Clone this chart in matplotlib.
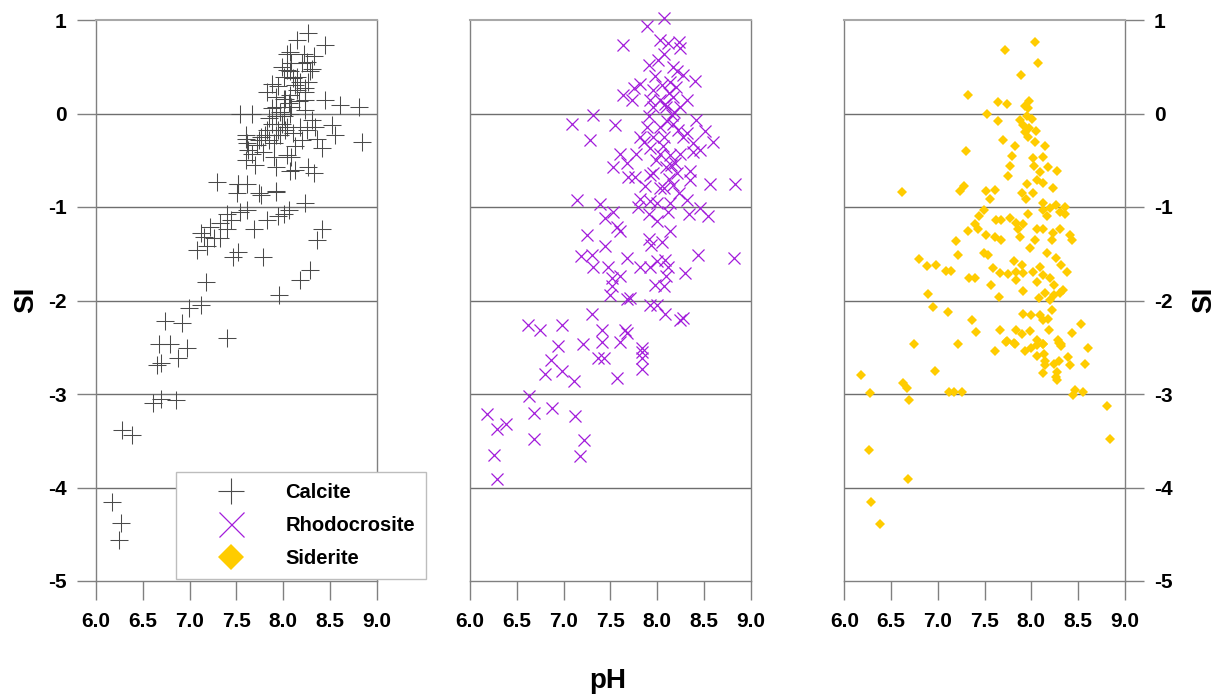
import matplotlib
matplotlib.use("Agg")
import matplotlib.pyplot as plt
from matplotlib.lines import Line2D

plt.rcParams['font.family'] = ['Liberation Sans', 'DejaVu Sans']

# ---------------- data (pH, SI) ----------------
calcite_ph = [8.27, 8.15, 8.45, 8.08, 8.22, 8.33, 8.08, 8.15, 8.20, 8.29, 8.31, 8.01, 8.13, 8.24,
              7.95, 7.88, 7.83, 7.92, 8.06, 8.17, 8.09, 8.02, 8.24, 8.45, 8.61, 8.81, 7.88, 7.54,
              7.67, 7.85, 7.99, 8.04, 7.95, 7.83, 7.77, 7.60, 7.92, 8.11, 8.26, 8.34, 8.52, 8.56,
              8.84, 8.36, 8.42, 8.13, 7.90, 7.72, 7.63, 7.60, 7.70, 7.92, 8.08, 8.13, 8.27, 8.33,
              8.04, 7.52, 7.74, 7.92,
              7.99, 8.04, 8.11, 8.18, 8.15, 8.08, 8.01, 7.93, 7.97, 7.92, 7.88, 8.01, 8.08, 7.81,
              7.74, 7.85, 7.97, 8.02, 8.18, 8.24, 8.31, 8.27, 8.24, 8.09, 8.04, 8.26, 7.60, 7.61,
              7.67, 7.79, 8.09, 8.20, 7.90,
              7.29, 7.52, 7.61, 7.51, 7.76, 7.92, 7.61, 7.40, 7.54, 7.44, 7.33, 7.22, 7.15, 7.26,
              7.33, 7.12, 7.08, 7.19, 7.40, 7.47, 7.52, 7.69, 7.83, 7.95, 8.01, 8.06, 8.24, 7.79,
              8.42, 8.36, 8.29, 8.18, 7.96, 7.18, 7.12, 6.99, 6.74, 6.92, 7.40, 6.67, 6.79,
              6.97, 6.88, 6.65, 6.69, 6.61, 6.69, 6.86, 6.28, 6.38, 6.17, 6.27, 6.25]
calcite_si = [0.86, 0.79, 0.73, 0.66, 0.64, 0.61, 0.45, 0.39, 0.54, 0.45, 0.48, 0.39, 0.30, 0.23,
              0.29, 0.32, 0.23, 0.18, 0.11, 0.13, 0.07, 0.16, 0.14, 0.14, 0.09, 0.07, 0.06, 0.00,
              0.00, -0.05, -0.11, -0.14, -0.18, -0.18, -0.25, -0.27, -0.23, -0.21, -0.18, -0.14, -0.12, -0.23,
              -0.31, -0.27, -0.37, -0.35, -0.32, -0.34, -0.39, -0.50, -0.55, -0.57, -0.62, -0.60, -0.57, -0.64,
              -0.44, -0.75, -0.85, -0.84,
              0.50, 0.47, 0.38, 0.34, 0.25, 0.20, 0.16, 0.07, 0.02, -0.03, -0.11, -0.03, 0.00, -0.23,
              -0.28, -0.28, -0.23, -0.18, -0.14, 0.04, -0.07, 0.34, 0.27, 0.54, 0.64, 0.55, -0.23, -0.32,
              -0.43, -0.41, -0.46, -0.28, -0.46,
              -0.73, -0.75, -0.75, -0.85, -0.87, -0.83, -1.03, -1.07, -1.05, -1.14, -1.17, -1.21, -1.32, -1.33,
              -1.33, -1.28, -1.46, -1.42, -1.24, -1.53, -1.48, -1.23, -1.14, -1.10, -1.07, -1.03, -0.96, -1.53,
              -1.23, -1.35, -1.67, -1.78, -1.94, -1.80, -2.05, -2.08, -2.22, -2.24, -2.40, -2.46, -2.46,
              -2.51, -2.62, -2.69, -2.67, -3.10, -3.05, -3.06, -3.39, -3.44, -4.15, -4.38, -4.56]

rhodo_ph = [8.07, 7.89, 7.64, 8.03, 8.12, 8.23, 8.25, 8.07, 8.01, 7.91, 8.17, 8.28, 8.21, 8.41,
            8.14, 7.75, 7.64, 7.73, 7.82, 7.96, 7.93, 8.03, 8.17, 8.32, 8.10, 8.25, 7.96, 8.16,
            7.91, 7.32, 7.09, 7.55, 7.28, 8.42, 7.89, 8.03, 8.17, 8.51, 8.60, 7.82, 7.96, 8.07,
            8.28, 8.32, 8.39, 8.46, 7.60, 7.78, 7.93, 8.03, 8.14, 8.25, 8.39, 7.53, 7.68, 7.76,
            7.69, 7.93, 7.96, 8.10, 8.21, 8.35, 8.19, 8.35, 8.57, 8.83, 7.87, 8.03, 8.17, 7.82,
            7.93, 8.00, 8.14, 8.23, 8.32, 7.14, 7.39, 7.53, 7.44, 7.91, 8.12, 8.34, 8.46, 8.55,
            7.57, 7.60, 7.25, 7.44, 7.91, 7.94, 8.05, 8.14, 7.19, 7.30, 7.32, 7.48, 7.68, 7.82,
            7.93, 8.00, 8.09, 8.12, 8.44, 8.82, 8.30, 7.52, 7.60, 7.52, 7.98, 8.07, 8.10, 7.50,
            7.68, 7.71, 7.93, 8.00, 8.09, 7.30, 8.25, 8.28, 6.62, 6.75, 6.98, 7.41, 7.66, 7.68,
            7.41, 7.60, 7.21, 6.94, 7.84,
            6.87, 6.98, 6.80, 7.11, 7.37, 7.43, 7.57, 7.84, 7.84, 7.84, 6.63, 6.68, 6.88, 7.12,
            6.18, 6.29, 6.39, 6.68, 7.22, 6.26, 7.18, 6.29,
            8.05, 8.13, 8.20, 7.98, 8.09, 8.18, 8.11, 8.06, 8.22, 8.15, 7.99, 8.08, 7.86, 7.80,
            8.00, 8.13]
rhodo_si = [1.02, 0.94, 0.73, 0.79, 0.75, 0.77, 0.70, 0.64, 0.57, 0.52, 0.50, 0.41, 0.45, 0.35,
            0.34, 0.27, 0.20, 0.14, 0.32, 0.25, 0.14, 0.14, 0.18, 0.14, 0.07, 0.07, 0.07, -0.02,
            -0.03, -0.02, -0.11, -0.12, -0.28, -0.07, -0.14, -0.14, -0.11, -0.19, -0.30, -0.25, -0.25, -0.25,
            -0.25, -0.21, -0.32, -0.39, -0.43, -0.43, -0.37, -0.43, -0.44, -0.43, -0.41, -0.57, -0.53, -0.68,
            -0.68, -0.66, -0.64, -0.57, -0.64, -0.61, -0.53, -0.71, -0.75, -0.75, -0.78, -0.80, -0.76, -0.91,
            -0.94, -0.96, -0.96, -0.85, -0.93, -0.93, -0.97, -1.05, -1.12, -1.07, -1.05, -1.07, -1.01, -1.10,
            -1.21, -1.26, -1.30, -1.42, -1.34, -1.41, -1.37, -1.26, -1.52, -1.51, -1.64, -1.64, -1.55, -1.64,
            -1.64, -1.58, -1.57, -1.64, -1.51, -1.55, -1.71, -1.76, -1.74, -1.85, -1.83, -1.85, -1.74, -1.94,
            -1.98, -1.97, -2.05, -2.05, -2.14, -2.14, -2.21, -2.19, -2.26, -2.32, -2.26, -2.32, -2.32, -2.35,
            -2.44, -2.44, -2.46, -2.49, -2.51,
            -2.64, -2.75, -2.79, -2.86, -2.62, -2.62, -2.83, -2.55, -2.62, -2.73, -3.02, -3.20, -3.15, -3.24,
            -3.21, -3.37, -3.32, -3.48, -3.49, -3.65, -3.66, -3.91,
            0.30, 0.22, 0.28, 0.40, 0.10, 0.02, -0.08, -0.35, -0.18, -0.55, -0.50, -0.80, -0.30, -1.00,
            -1.15, -0.70]

siderite_ph = [8.04, 7.72, 8.07, 7.89, 7.32, 7.64, 7.74, 7.93, 7.98, 7.96, 7.53, 7.64, 7.88, 7.95,
               8.01, 7.91, 7.98, 8.05, 7.93, 7.96, 8.04, 7.70, 7.83, 8.15, 7.30, 7.79, 8.02, 8.13,
               7.77, 8.18, 8.03, 8.27, 8.09, 7.75, 8.06, 8.13, 7.95, 8.23, 6.62, 7.24, 7.28, 7.52,
               7.61, 7.90, 8.02, 7.94, 7.56, 8.13, 8.26, 8.36, 7.49, 8.13, 8.20, 8.31, 8.36, 7.44,
               7.97, 8.17, 7.62, 7.68, 7.77, 7.84, 7.91, 7.86, 7.40, 7.32, 7.43, 8.06, 8.13, 8.23,
               8.31, 8.41, 8.43, 7.52, 7.61, 7.68, 7.88, 8.04, 8.22, 7.19, 7.99, 7.22, 7.49, 7.54,
               8.17, 8.26, 6.80, 6.88, 6.98, 7.09, 7.14, 7.81, 7.90, 8.09, 8.32, 8.38, 7.59, 7.66,
               7.75, 7.84, 7.91, 8.02, 8.13, 8.20, 7.33, 7.40, 7.84, 8.06, 8.24, 8.34, 7.57, 7.91,
               8.15, 8.24, 8.31, 6.89, 7.65, 8.08, 8.20, 6.95, 7.11, 8.22, 7.91, 8.00, 8.09, 8.13,
               8.18, 7.37, 8.53, 7.41, 7.67, 7.84, 7.90, 7.99, 8.19, 8.43, 7.74, 7.82, 8.06, 8.13,
               8.29, 8.32, 6.75, 7.22, 8.61,
               7.61, 7.73, 7.83, 7.93, 8.00, 8.06, 8.13, 8.30, 8.32, 8.06, 8.14, 8.15, 8.15, 8.24,
               8.30, 8.39, 8.41, 8.57, 8.13, 8.27, 8.26, 8.27, 6.18, 6.28, 6.63, 6.67, 6.69, 6.97,
               7.12, 7.17, 7.26, 8.47, 8.45, 8.55, 8.81, 8.84, 6.26, 6.68, 6.29, 6.38]
siderite_si = [0.76, 0.68, 0.54, 0.41, 0.20, 0.12, 0.10, 0.08, 0.13, 0.06, -0.01, -0.08, -0.07, -0.03,
               -0.06, -0.12, -0.15, -0.19, -0.20, -0.25, -0.30, -0.28, -0.35, -0.35, -0.40, -0.45, -0.48, -0.46,
               -0.56, -0.57, -0.56, -0.61, -0.63, -0.67, -0.71, -0.74, -0.75, -0.80, -0.84, -0.83, -0.78, -0.83,
               -0.82, -0.85, -0.85, -0.91, -0.91, -0.96, -0.98, -1.00, -1.03, -1.03, -1.01, -1.05, -1.07, -1.10,
               -1.08, -1.10, -1.14, -1.14, -1.12, -1.17, -1.18, -1.24, -1.18, -1.26, -1.24, -1.24, -1.23, -1.28,
               -1.23, -1.30, -1.35, -1.30, -1.32, -1.35, -1.32, -1.35, -1.35, -1.36, -1.44, -1.51, -1.49, -1.51,
               -1.49, -1.55, -1.56, -1.63, -1.62, -1.68, -1.68, -1.58, -1.62, -1.64, -1.62, -1.69, -1.65, -1.71,
               -1.72, -1.70, -1.71, -1.69, -1.73, -1.76, -1.76, -1.76, -1.78, -1.80, -1.83, -1.89, -1.83, -1.90,
               -1.92, -1.94, -1.92, -1.93, -1.96, -1.97, -1.99, -2.07, -2.12, -2.10, -2.14, -2.15, -2.15, -2.21,
               -2.20, -2.21, -2.25, -2.34, -2.32, -2.32, -2.36, -2.33, -2.32, -2.35, -2.43, -2.45, -2.42, -2.46,
               -2.42, -2.46, -2.47, -2.47, -2.51,
               -2.54, -2.44, -2.46, -2.54, -2.51, -2.48, -2.46, -2.45, -2.49, -2.59, -2.57, -2.65, -2.69, -2.68,
               -2.65, -2.60, -2.69, -2.68, -2.78, -2.77, -2.82, -2.85, -2.80, -2.99, -2.88, -2.94, -3.06, -2.75,
               -2.98, -2.98, -2.98, -2.96, -3.01, -2.98, -3.13, -3.48, -3.60, -3.91, -4.16, -4.39]

x_ticks = [6.0, 6.5, 7.0, 7.5, 8.0, 8.5, 9.0]
x_ticklabels = ["6.0", "6.5", "7.0", "7.5", "8.0", "8.5", "9.0"]
y_ticks = [1, 0, -1, -2, -3, -4, -5]
y_ticklabels = ["1", "0", "-1", "-2", "-3", "-4", "-5"]
legend_labels = ["Calcite", "Rhodocrosite", "Siderite"]

# ---------------- styling ----------------
W, H = 1227, 700
fig = plt.figure(figsize=(W / 100, H / 100), dpi=100)

c_calc = "#4a4a4a"
c_rhodo = "#A21CDB"
c_sid = "#FFCC00"
spine_c = "#808080"
grid_c = "#6e6e6e"

lefts = [96, 470, 844.3]
width_px = 280.5
top_px, bot_px = 20, 581
tick_fs = 15

axes = []
for i, L in enumerate(lefts):
    ax = fig.add_axes([L / W, 1 - bot_px / H, width_px / W, (bot_px - top_px) / H])
    ax.set_xlim(6.0, 9.0)
    ax.set_ylim(-5, 1)
    for s in ax.spines.values():
        s.set_color(spine_c)
        s.set_linewidth(1.0)
    ax.spines['top'].set_color("#a8a8a8")
    ax.spines['top'].set_linewidth(1.5)
    for yv in [0, -1, -2, -3, -4]:
        ax.axhline(yv, color=grid_c, lw=1.0, zorder=1)
    ax.set_xticks(x_ticks)
    ax.set_xticklabels(x_ticklabels, fontsize=tick_fs, fontweight='bold')
    ax.tick_params(axis='x', direction='out', length=14, width=1.0, color=spine_c, pad=8)
    axes.append(ax)

ax1, ax2, ax3 = axes
ax1.set_yticks(y_ticks)
ax1.set_yticklabels(y_ticklabels, fontsize=tick_fs, fontweight='bold')
ax1.tick_params(axis='y', direction='out', length=14, width=1.0, color=spine_c, pad=7)
ax2.set_yticks([])
ax3.yaxis.tick_right()
ax3.set_yticks(y_ticks)
ax3.set_yticklabels(y_ticklabels, fontsize=tick_fs, fontweight='bold')
ax3.tick_params(axis='y', direction='out', length=14, width=1.0, color=spine_c, pad=7)

ax1.plot(calcite_ph, calcite_si, linestyle='none', marker='+', ms=12.5, mew=0.75,
         color=c_calc, zorder=3, clip_on=False)
ax2.plot(rhodo_ph, rhodo_si, linestyle='none', marker='x', ms=8, mew=0.9,
         color=c_rhodo, zorder=3, clip_on=False)
ax3.plot(siderite_ph, siderite_si, linestyle='none', marker='D', ms=5, mew=0,
         color=c_sid, zorder=3, clip_on=False)

handles = [
    Line2D([], [], linestyle='none', marker='+', ms=19, mew=0.8, color=c_calc),
    Line2D([], [], linestyle='none', marker='x', ms=18, mew=0.9, color=c_rhodo),
    Line2D([], [], linestyle='none', marker='D', ms=13, mew=0, color=c_sid),
]
leg = fig.legend(handles, legend_labels, loc='upper left',
                 bbox_to_anchor=(175.7 / W, 1 - 472.3 / H),
                 prop={'size': 14.5, 'weight': 'bold'},
                 frameon=True, fancybox=False, framealpha=1, edgecolor="#bdbdbd",
                 borderpad=0.55, handlelength=4.4, handletextpad=0.5,
                 labelspacing=0.68, borderaxespad=0)
leg.get_frame().set_linewidth(1.0)
leg.set_zorder(10)

fig.text(26 / W, 1 - 300 / H, "SI", rotation=90, fontsize=20, fontweight='bold',
         ha='center', va='center')
fig.text(1204 / W, 1 - 300 / H, "SI", rotation=90, fontsize=20, fontweight='bold',
         ha='center', va='center')
fig.text(608 / W, 1 - 688 / H, "pH", fontsize=20, fontweight='bold',
         ha='center', va='baseline')

fig.savefig("out.png", dpi=100)
